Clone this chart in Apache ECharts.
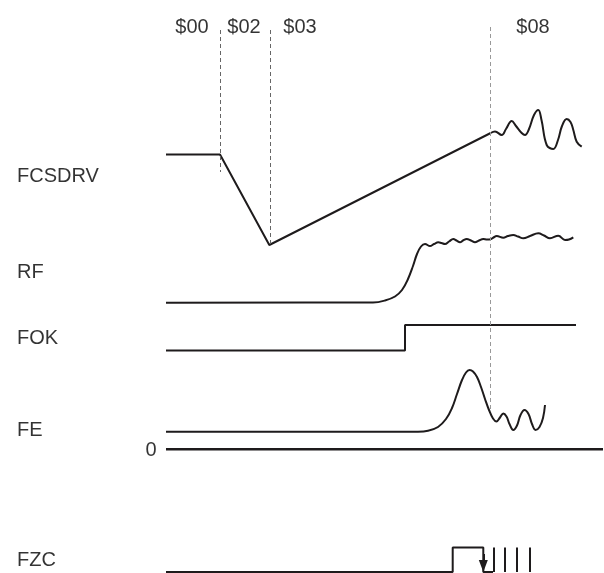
<!DOCTYPE html>
<html>
<head>
<meta charset="utf-8">
<script src="https://cdn.jsdelivr.net/npm/echarts@6/dist/echarts.min.js"></script>
<style>
  html, body { margin: 0; padding: 0; background: #fff; }
  #main { width: 604px; height: 573px; }
</style>
</head>
<body>
<div id="main"></div>
<script>
// signal names and label positions (x = time axis, y = level axis, top-down)
const signalNames = ['FCSDRV', 'RF', 'FOK', 'FE', 'FZC'];
const signalLabelY = [176, 272, 338, 430, 560];
const stepNames = ['$00', '$02', '$03', '$08'];
const stepLabelX = [192, 244, 300, 533];
const markerX = [220, 270, 490.7];
const markerTop = [30, 30, 27];
const markerBottom = [172, 245, 410];

// FCSDRV: hold, drop, ramp, then oscillation
const fcsdrvRamp = [[166, 154.5], [220, 154.5], [269.3, 245], [490.7, 133]];
const fcsdrvWiggle = [[490.7, 133], [495, 131.5], [501.7, 135], [506, 129], [511.7, 121],
  [516, 126], [521.7, 133], [525, 135], [529, 129], [534, 115], [538.3, 110], [541.5, 120],
  [546.7, 145], [553.3, 149], [558, 140], [562, 126], [566.7, 119], [570.5, 122],
  [573.3, 130], [576.7, 141.7], [581.7, 146.7]];

// RF
const rfLevel = [[166, 302.7], [373, 302.5], [385, 300.5], [395, 296.5], [402, 290],
  [408, 279], [413, 266], [417, 254], [421, 246.5], [425, 244], [430, 246], [434, 244],
  [438.3, 242.3], [441.5, 243], [445, 244], [449, 241.5], [453.3, 239], [456.5, 240.5],
  [460, 242.3], [463, 240.5], [466.7, 239], [471, 240.5], [475, 242.3], [479, 240.5],
  [483.3, 239], [487, 239.5], [490.7, 239.3], [493.5, 237.5], [496.7, 236], [503.3, 237.7],
  [508, 236], [513.3, 235], [518, 236.5], [523.3, 238.3], [530, 236], [538.3, 233.3],
  [544, 235.5], [550, 238.3], [558.3, 235.7], [565, 240], [569, 239.5], [573.3, 237.3]];

// FOK step
const fokLevel = [[166, 350.5], [405, 350.5], [405, 325], [576, 325]];

// FE
const feLevel = [[166, 431.7], [418, 431.7], [428, 430.8], [438, 427], [446, 419],
  [452, 408], [457, 394], [462, 380], [466, 372.5], [469.5, 370], [473, 371.5],
  [477, 377], [481, 387], [485, 399], [489, 410], [493, 418.5], [496.5, 421.5],
  [500, 417.5], [503.3, 413.5], [506.5, 416.5], [509.5, 424], [513.3, 430], [517, 425.5],
  [520.5, 415], [524.5, 410], [528.5, 414], [532, 424], [535.5, 430], [539.5, 427],
  [543, 418], [545, 405]];
const zeroLine = [[166, 449.3], [603, 449.3]];

// FZC pulse and zero-cross ticks
const fzcLevel = [[166, 572], [452.7, 572], [452.7, 547.5], [483.3, 547.5], [483.3, 572], [493, 572]];
const fzcTicksX = [493.3, 505, 516.7, 529.3];
const fzcHigh = 547.5;
const fzcLow = 572;

const ink = '#1e1b1c';
const chart = echarts.init(document.getElementById('main'));

function wave(name, data, smooth, width) {
  return {
    name: name, type: 'line', data: data, smooth: smooth, symbol: 'none', silent: true,
    lineStyle: { color: ink, width: width || 2 }, z: 3
  };
}

const markerLines = markerX.map((x, i) => [
  { coord: [x, markerTop[i]], lineStyle: { color: i === 2 ? '#999' : '#666', type: [4, 3], width: 1 } },
  { coord: [x, markerBottom[i]] }
]);

const tickLines = fzcTicksX.map(x => [
  { coord: [x, fzcHigh], lineStyle: { color: ink, width: 2, type: 'solid' } },
  { coord: [x, fzcLow] }
]);

const textFont = { fontFamily: 'Liberation Sans, Arial, sans-serif', fontSize: 20, color: '#000' };

function textSeries(items, position) {
  return {
    type: 'scatter', silent: true, symbolSize: 0, itemStyle: { color: '#000' },
    data: items,
    label: Object.assign({ show: true, position: position, distance: 0, formatter: p => p.name,
      textBorderWidth: 0 }, textFont)
  };
}

chart.setOption({
  animation: false,
  backgroundColor: '#fff',
  grid: { left: 0, right: 0, top: 0, bottom: 0 },
  xAxis: { type: 'value', min: 0, max: 604, show: false },
  yAxis: { type: 'value', min: 0, max: 573, inverse: true, show: false },
  series: [
    Object.assign(wave('FCSDRV', fcsdrvRamp, false), {
      markLine: { silent: true, symbol: 'none', label: { show: false }, data: markerLines }
    }),
    wave('FCSDRV osc', fcsdrvWiggle, 0.4),
    wave('RF', rfLevel, 0.4),
    wave('FOK', fokLevel, false),
    wave('FE', feLevel, 0.4),
    wave('zero', zeroLine, false, 2.5),
    Object.assign(wave('FZC', fzcLevel, false), {
      markLine: {
        silent: true, symbol: 'none', label: { show: false },
        data: tickLines.concat([[
          { coord: [483.3, 554], symbol: 'none', lineStyle: { color: ink, width: 2, type: 'solid' } },
          { coord: [483.3, 566], symbol: 'triangle', symbolSize: [9, 12] }
        ]])
      }
    }),
    textSeries(signalNames.map((n, i) => ({ value: [17, signalLabelY[i]], name: n })), 'right'),
    textSeries(stepNames.map((n, i) => ({ value: [stepLabelX[i], 27], name: n })), 'inside'),
    textSeries([{ value: [151, 450], name: '0' }], 'inside')
  ]
});
</script>
</body>
</html>
